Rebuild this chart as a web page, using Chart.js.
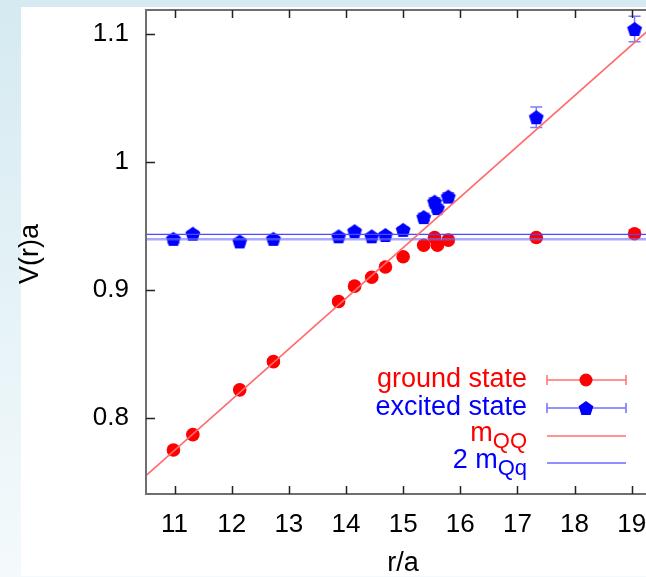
<!DOCTYPE html>
<html>
<head>
<meta charset="utf-8">
<script src="https://cdn.jsdelivr.net/npm/chart.js@4"></script>
<style>
  html, body { margin: 0; padding: 0; }
  body {
    width: 646px; height: 577px; overflow: hidden; position: relative;
    background: linear-gradient(to bottom, #d5eaf1, #f4fafc);
  }
  #panel { position: absolute; left: 21px; top: 7px; width: 625px; height: 569px; background: #fff; }
  #wrap { position: absolute; left: 0; top: 0; width: 646px; height: 577px; }
</style>
</head>
<body>
<div id="panel"></div>
<div id="wrap"><canvas id="chart" width="646" height="577"></canvas></div>
<script>
// separations r/a shared by both states
const rValues = [10.98, 11.32, 12.14, 12.73, 13.87, 14.15, 14.45, 14.69, 15.00, 15.36, 15.55, 15.60, 15.79, 17.33, 19.05];
const groundV = [0.775, 0.787, 0.822, 0.844, 0.891, 0.903, 0.910, 0.918, 0.926, 0.935, 0.941, 0.935, 0.939, 0.941, 0.944];
const groundErr = [0.002, 0.002, 0.002, 0.002, 0.002, 0.002, 0.002, 0.002, 0.002, 0.002, 0.002, 0.002, 0.002, 0.002, 0.003];
const excitedV = [0.940, 0.944, 0.938, 0.940, 0.942, 0.946, 0.942, 0.943, 0.947, 0.957, 0.969, 0.964, 0.973, 1.035, 1.104];
const excitedErr = [0.003, 0.002, 0.002, 0.002, 0.002, 0.002, 0.002, 0.002, 0.002, 0.003, 0.003, 0.003, 0.003, 0.008, 0.010];

// fitted lines
const mQQr = [10.5, 20];
const mQQv = [0.755, 1.131];
const mQqR = [10.5, 20];
const mQqUpper = [0.9435, 0.9435];
const mQqLower = [0.9396, 0.9396];

const xTicks = [11, 12, 13, 14, 15, 16, 17, 18, 19];
const yTicks = [0.8, 0.9, 1.0, 1.1];

const pts = (xs, ys) => xs.map((x, i) => ({ x: x, y: ys[i] }));

function pentagon(r, color) {
  const c = document.createElement('canvas');
  const s = Math.ceil(r * 2 + 2);
  c.width = s; c.height = s;
  const g = c.getContext('2d');
  g.fillStyle = color;
  g.beginPath();
  for (let i = 0; i < 5; i++) {
    const a = -Math.PI / 2 + i * 2 * Math.PI / 5;
    const px = s / 2 + r * Math.cos(a), py = s / 2 + r * Math.sin(a) + 0.7;
    if (i === 0) g.moveTo(px, py); else g.lineTo(px, py);
  }
  g.closePath();
  g.fill();
  return c;
}
const pentImg = pentagon(7.8, '#0000ff');

const FONT = '"Liberation Sans", Arial, sans-serif';

const errorBars = {
  id: 'errorBars',
  beforeDatasetDraw(chart, args) {
    const ds = chart.data.datasets[args.index];
    if (!ds.errors) return;
    const ctx = chart.ctx, xs = chart.scales.x, ys = chart.scales.y;
    ctx.save();
    ctx.strokeStyle = ds.errColor;
    ctx.lineWidth = 1.5;
    ds.data.forEach((p, i) => {
      const e = ds.errors[i];
      const px = xs.getPixelForValue(p.x);
      const y1 = ys.getPixelForValue(p.y - e), y2 = ys.getPixelForValue(p.y + e);
      ctx.beginPath();
      ctx.moveTo(px, y1); ctx.lineTo(px, y2);
      ctx.moveTo(px - 6, y1); ctx.lineTo(px + 6, y1);
      ctx.moveTo(px - 6, y2); ctx.lineTo(px + 6, y2);
      ctx.stroke();
    });
    ctx.restore();
  }
};

const frame = {
  id: 'frame',
  afterDraw(chart) {
    const ctx = chart.ctx, a = chart.chartArea, xs = chart.scales.x, ys = chart.scales.y;
    ctx.save();
    ctx.strokeStyle = '#6e6e6e';
    ctx.lineWidth = 2;
    ctx.beginPath();
    ctx.moveTo(a.right + 2, a.top); ctx.lineTo(a.left, a.top);
    ctx.lineTo(a.left, a.bottom); ctx.lineTo(a.right + 2, a.bottom);
    ctx.stroke();
    ctx.strokeStyle = '#222';
    ctx.lineWidth = 1.5;
    ctx.beginPath();
    xTicks.forEach(t => {
      const px = Math.round(xs.getPixelForValue(t)) + 0.5;
      ctx.moveTo(px, a.bottom); ctx.lineTo(px, a.bottom - 8);
      ctx.moveTo(px, a.top); ctx.lineTo(px, a.top + 8);
    });
    yTicks.forEach(t => {
      const py = Math.round(ys.getPixelForValue(t)) + 0.5;
      ctx.moveTo(a.left, py); ctx.lineTo(a.left + 9, py);
    });
    ctx.stroke();

    // axis titles
    ctx.fillStyle = '#000';
    ctx.font = '27px ' + FONT;
    ctx.textAlign = 'center';
    ctx.textBaseline = 'middle';
    ctx.fillText('r/a', 403, 564);
    ctx.save();
    ctx.translate(31, 254);
    ctx.rotate(-Math.PI / 2);
    ctx.fillText('V(r)a', 0, 0);
    ctx.restore();

    // legend
    const tx = 527, lx1 = 547, lx2 = 626, mx = 586;
    const rows = [380, 408, 436, 463];
    ctx.textBaseline = 'middle';
    ctx.textAlign = 'right';
    ctx.font = '27px ' + FONT;
    ctx.fillStyle = '#ff0000';
    ctx.fillText('ground state', tx, rows[0]);
    ctx.fillStyle = '#0000ff';
    ctx.fillText('excited state', tx, rows[1]);

    const sub = (main, subs, y, color) => {
      ctx.fillStyle = color;
      ctx.font = '22px ' + FONT;
      const sw = ctx.measureText(subs).width;
      ctx.fillText(subs, tx, y + 6);
      ctx.font = '27px ' + FONT;
      ctx.fillText(main, tx - sw, y - 2);
    };
    sub('m', 'QQ', rows[2], '#ff0000');
    sub('2 m', 'Qq', rows[3], '#0000ff');

    const sample = (y, color, err) => {
      ctx.strokeStyle = color;
      ctx.lineWidth = 1.5;
      ctx.beginPath();
      ctx.moveTo(lx1, y); ctx.lineTo(lx2, y);
      if (err) {
        ctx.moveTo(lx1, y - 5); ctx.lineTo(lx1, y + 5);
        ctx.moveTo(lx2, y - 5); ctx.lineTo(lx2, y + 5);
      }
      ctx.stroke();
    };
    sample(rows[0], '#ff7070', true);
    sample(rows[1], '#7070ff', true);
    sample(rows[2], '#ff7070', false);
    sample(rows[3], '#6a6aff', false);
    ctx.fillStyle = '#ff0000';
    ctx.beginPath(); ctx.arc(mx, rows[0], 6.5, 0, Math.PI * 2); ctx.fill();
    ctx.drawImage(pentImg, mx - pentImg.width / 2, rows[1] - pentImg.height / 2);
    ctx.restore();
  }
};

const noPad = s => { s.paddingTop = 0; s.paddingBottom = 0; s.paddingLeft = 0; s.paddingRight = 0; };

new Chart(document.getElementById('chart'), {
  type: 'scatter',
  data: {
    datasets: [
      {
        label: 'mQQ', data: pts(mQQr, mQQv), showLine: true, pointRadius: 0,
        borderColor: '#ff6a6a', borderWidth: 1.5, order: 0
      },
      {
        label: '2 mQq', data: pts(mQqR, mQqUpper), showLine: true, pointRadius: 0,
        borderColor: '#4a4aff', borderWidth: 1.2, order: 0
      },
      {
        label: '2 mQq band', data: pts(mQqR, mQqLower), showLine: true, pointRadius: 0,
        borderColor: 'rgba(110,110,255,0.6)', borderWidth: 2.5, order: 0
      },
      {
        label: 'ground state', data: pts(rValues, groundV), errors: groundErr, errColor: '#ff6a6a',
        pointStyle: 'circle', pointRadius: 6.8, backgroundColor: '#ff0000', borderWidth: 0, order: 1
      },
      {
        label: 'excited state', data: pts(rValues, excitedV), errors: excitedErr, errColor: '#7a7aff',
        pointStyle: pentImg, pointRadius: 7, backgroundColor: '#0000ff', borderWidth: 0, order: 2
      }
    ]
  },
  options: {
    responsive: false,
    animation: false,
    events: [],
    layout: { padding: { top: 10, right: 0, left: 0, bottom: 0 }, autoPadding: false },
    plugins: { legend: { display: false }, tooltip: { enabled: false } },
    scales: {
      x: {
        type: 'linear', min: 10.5, max: 19.25,
        afterBuildTicks: s => { s.ticks = xTicks.map(v => ({ value: v })); },
        afterFit: s => { s.height = 83; noPad(s); },
        grid: { display: false, drawTicks: false },
        border: { display: false },
        ticks: { color: '#000', font: { family: FONT, size: 26 }, padding: 15, maxRotation: 0, autoSkip: false }
      },
      y: {
        type: 'linear', min: 0.7406, max: 1.1188,
        afterBuildTicks: s => { s.ticks = yTicks.map(v => ({ value: v })); },
        afterFit: s => { s.width = 146; noPad(s); },
        grid: { display: false, drawTicks: false },
        border: { display: false },
        ticks: { color: '#000', font: { family: FONT, size: 26 }, padding: 17,
          callback: v => String(Math.round(v * 10) / 10) }
      }
    }
  },
  plugins: [errorBars, frame]
});
</script>
</body>
</html>
